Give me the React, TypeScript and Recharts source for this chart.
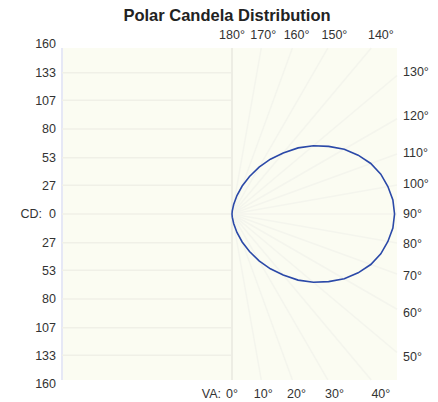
import {
  Line,
  LineChart,
  ReferenceArea,
  ReferenceLine,
  XAxis,
  YAxis,
} from "recharts";

// vertical angle (0 = straight down, 180 = straight up) and candela
const verticalAngles = [
  0, 5, 10, 15, 20, 25, 30, 35, 40, 45, 50, 55, 60, 65, 70, 75, 80, 85, 90,
  95, 100, 105, 110, 115, 120, 125, 130, 135, 140, 145, 150, 155, 160, 165,
  170, 175, 180,
];
const candela = [
  0, 3, 9, 18, 28, 39, 51, 63, 75, 88, 100, 111, 122, 131, 139, 145, 149, 152,
  153, 152, 149, 145, 139, 131, 122, 111, 100, 88, 75, 63, 51, 39, 28, 18, 9,
  3, 0,
];

const cdTicks = [-160, -133, -107, -80, -53, -27, 0, 27, 53, 80, 107, 133, 160];
const upperAngleTicks = [180, 170, 160, 150, 140];
const lowerAngleTicks = [0, 10, 20, 30, 40];
const sideAngleTicks = [50, 60, 70, 80, 90, 100, 110, 120, 130];
const gridAngles = [10, 20, 30, 40, 50, 60, 70, 80, 90, 100, 110, 120, 130, 140, 150, 160, 170];

const rad = (d: number) => (d * Math.PI) / 180;
const deg = (r: number) => (r * 180) / Math.PI;

const data = verticalAngles.map((a, i) => ({
  x: candela[i] * Math.sin(rad(a)),
  y: -candela[i] * Math.cos(rad(a)),
}));

const X_MIN = -160;
const X_MAX = 155.3;
const BOX_Y = 156.2;
const LABEL_R = 167;
const SIDE_R = 160;

const topTicks = upperAngleTicks.map((a) => LABEL_R * Math.tan(rad(180 - a)));
const bottomTicks = lowerAngleTicks.map((a) => LABEL_R * Math.tan(rad(a)));
const sideTicks = sideAngleTicks.map((a) => SIDE_R * Math.tan(rad(a - 90)));

const radial = gridAngles.map((a) => {
  const s = Math.sin(rad(a));
  const c = -Math.cos(rad(a));
  const t = Math.min(X_MAX / s, Math.abs(c) > 1e-6 ? BOX_Y / Math.abs(c) : 1e9);
  return [
    { x: 0, y: 0 },
    { x: s * t, y: c * t },
  ];
});

const font = "'Liberation Sans', Arial, sans-serif";
const tickStyle = { fontSize: 12.5, fill: "#333", fontFamily: font };

const BottomTick = (props: any) => {
  const { x, y, payload } = props;
  const a = Math.round(deg(Math.atan(payload.value / LABEL_R)));
  return (
    <g>
      <text x={x} y={y} dy={9} textAnchor="middle" {...tickStyle}>
        {a}°
      </text>
      {a === 0 && (
        <text x={x - 11} y={y} dy={9} textAnchor="end" {...tickStyle}>
          VA:
        </text>
      )}
    </g>
  );
};

export default function App() {
  return (
    <div style={{ position: "absolute", left: 0, top: 0, width: 438, height: 402 }}>
      <div
        style={{
          position: "absolute",
          left: 0,
          top: 6,
          width: 454,
          textAlign: "center",
          fontFamily: font,
          fontWeight: "bold",
          fontSize: 16.5,
          color: "#222",
        }}
      >
        Polar Candela Distribution
      </div>
      <LineChart
        width={438}
        height={402}
        data={data}
        margin={{ top: 0, right: 0, bottom: 0, left: 0 }}
      >
        <XAxis
          xAxisId="top"
          orientation="top"
          type="number"
          dataKey="x"
          domain={[X_MIN, X_MAX]}
          allowDataOverflow
          ticks={topTicks}
          interval={0}
          height={44}
          axisLine={false}
          tickLine={false}
          tickSize={3}
          tickMargin={2}
          tick={tickStyle}
          tickFormatter={(v: number) =>
            `${Math.round(180 - deg(Math.atan(v / LABEL_R)))}°`
          }
        />
        <XAxis
          xAxisId="bottom"
          orientation="bottom"
          type="number"
          dataKey="x"
          domain={[X_MIN, X_MAX]}
          allowDataOverflow
          ticks={bottomTicks}
          interval={0}
          height={18}
          axisLine={false}
          tickLine={false}
          tickSize={3}
          tickMargin={2}
          tick={<BottomTick />}
        />
        <YAxis
          yAxisId="left"
          orientation="left"
          type="number"
          dataKey="y"
          domain={[-160, 160]}
          allowDataOverflow
          ticks={cdTicks}
          interval={0}
          width={62}
          axisLine={false}
          tickLine={false}
          tickSize={4}
          tickMargin={2}
          tick={tickStyle}
          tickFormatter={(v: number) =>
            v === 0 ? "CD:\u00a0\u00a00" : String(Math.abs(v))
          }
        />
        <YAxis
          yAxisId="right"
          orientation="right"
          type="number"
          domain={[-160, 160]}
          allowDataOverflow
          ticks={sideTicks}
          interval={0}
          width={41}
          axisLine={false}
          tickLine={false}
          tickSize={4}
          tickMargin={2}
          tick={tickStyle}
          tickFormatter={(v: number) =>
            `${Math.round(90 + deg(Math.atan(v / SIDE_R)))}°`
          }
        />
        <ReferenceArea
          xAxisId="bottom"
          yAxisId="left"
          x1={X_MIN}
          x2={X_MAX}
          y1={-BOX_Y}
          y2={BOX_Y}
          fill="#fbfcf2"
          fillOpacity={1}
          stroke="none"
          ifOverflow="visible"
        />
        <ReferenceLine
          xAxisId="bottom"
          yAxisId="left"
          segment={[
            { x: X_MIN, y: -BOX_Y },
            { x: X_MIN, y: BOX_Y },
          ]}
          stroke="#e6e8f6"
          strokeWidth={2}
          ifOverflow="visible"
        />
        {cdTicks
          .filter((v) => Math.abs(v) < 160)
          .map((v) => (
            <ReferenceLine
              key={`h${v}`}
              xAxisId="bottom"
              yAxisId="left"
              segment={[
                { x: X_MIN, y: v },
                { x: 0, y: v },
              ]}
              stroke="#f0f0e7"
              strokeWidth={1.5}
              ifOverflow="visible"
            />
          ))}
        <ReferenceLine
          xAxisId="bottom"
          yAxisId="left"
          segment={[
            { x: 0, y: -BOX_Y },
            { x: 0, y: BOX_Y },
          ]}
          stroke="#ededE4"
          strokeWidth={2}
          ifOverflow="visible"
        />
        {radial.map((seg, i) => (
          <ReferenceLine
            key={`r${i}`}
            xAxisId="bottom"
            yAxisId="left"
            segment={seg}
            stroke="#f4f5ed"
            strokeWidth={1.5}
            ifOverflow="visible"
          />
        ))}
        <Line
          xAxisId="bottom"
          yAxisId="left"
          type="linear"
          dataKey="y"
          stroke="#2b49a8"
          strokeWidth={1.6}
          dot={false}
          activeDot={false}
          isAnimationActive={false}
        />
      </LineChart>
    </div>
  );
}
